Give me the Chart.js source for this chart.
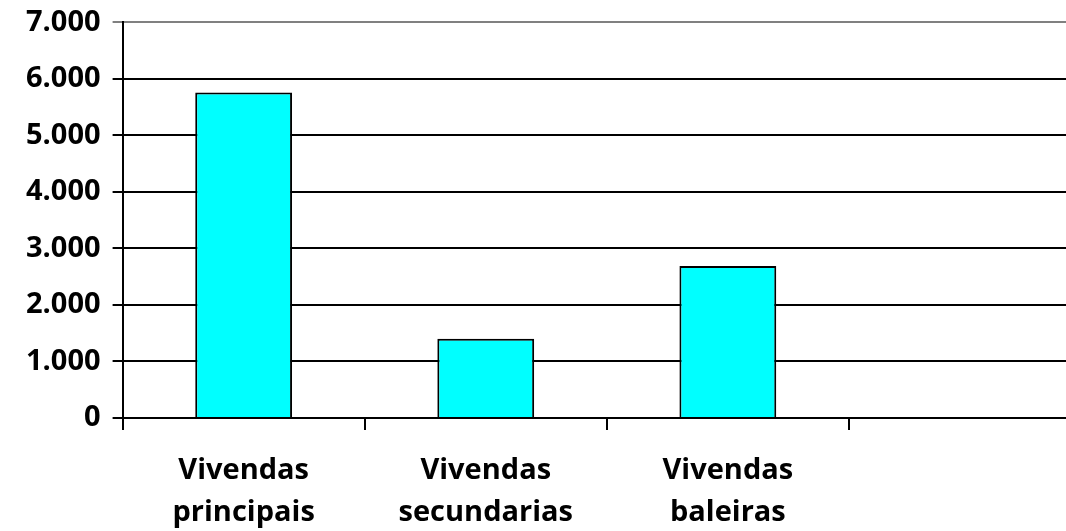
<!DOCTYPE html>
<html>
<head>
<meta charset="utf-8">
<script src="https://cdn.jsdelivr.net/npm/chart.js@4.4.0/dist/chart.umd.min.js"></script>
<style>
  html, body { margin: 0; padding: 0; background: #fff; overflow: hidden; }
  canvas { display: block; margin-top: -7px; }
</style>
</head>
<body>
<canvas id="vivendasChart" width="1092" height="561"></canvas>
<script>
const categories = [['Vivendas', 'principais'], ['Vivendas', 'secundarias'], ['Vivendas', 'baleiras'], ''];
const vivendas = [5760, 1400, 2690, null];
const yMax = 7000;
const yStep = 1000;

const ctx = document.getElementById('vivendasChart').getContext('2d');

const data = {
    labels: categories,
    datasets: [{
        data: vivendas,
        backgroundColor: '#00FFFF',
        borderColor: '#000000',
        borderWidth: 2,
        barPercentage: 0.4,
        categoryPercentage: 1.0
    }]
};

const config = {
    type: 'bar',
    data: data,
    options: {
        responsive: false,
        animation: false,
        layout: {
            padding: { top: 0, left: 14, right: 1, bottom: 0 }
        },
        plugins: {
            legend: { display: false },
            tooltip: { enabled: false }
        },
        scales: {
            x: {
                grid: {
                    offset: true,
                    drawOnChartArea: false,
                    drawTicks: true,
                    tickLength: 12,
                    color: '#000',
                    lineWidth: 2
                },
                border: { display: true, color: '#000', width: 2 },
                ticks: {
                    color: '#000',
                    padding: 20,
                    maxRotation: 0,
                    autoSkip: false,
                    font: { family: 'Open Sans', size: 29, weight: 'bold', lineHeight: 1.45 }
                }
            },
            y: {
                min: 0,
                max: yMax,
                ticks: {
                    stepSize: yStep,
                    color: '#000',
                    padding: 12,
                    font: { family: 'Open Sans', size: 29, weight: 'bold' },
                    callback: v => v.toString().replace(/\B(?=(\d{3})+(?!\d))/g, '.')
                },
                grid: {
                    color: c => c.tick && c.tick.value === yMax ? '#808080' : '#000',
                    lineWidth: 2,
                    tickLength: 10
                },
                border: { display: true, color: '#000', width: 2 }
            }
        }
    }
};

const vivendasChart = new Chart(ctx, config);
</script>
</body>
</html>
